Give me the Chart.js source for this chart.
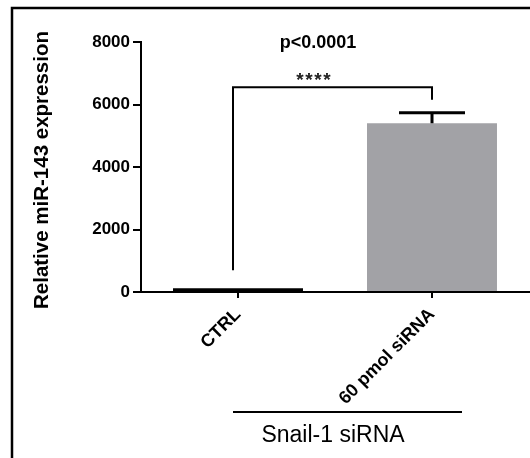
<!DOCTYPE html>
<html>
<head>
<meta charset="utf-8">
<script src="https://cdn.jsdelivr.net/npm/chart.js@4"></script>
<style>
  html, body { margin: 0; padding: 0; background: #fff; }
  #wrap { width: 530px; height: 458px; position: relative; }
</style>
</head>
<body>
<div id="wrap"><canvas id="chart"></canvas></div>
<script>
var categories = ['CTRL', '60 pmol siRNA'];
var values = [120, 5400];
var errors = [0, 340];
var yTicks = [0, 2000, 4000, 6000, 8000];
var barColors = ['#000000', '#a2a2a6'];
var bracketTop = 6550;
var bracketEnds = [700, 6150];
var pText = 'p<0.0001';
var starText = '****';
var groupLabel = 'Snail-1 siRNA';

var font = '"Liberation Sans", Arial, sans-serif';

var overlay = {
  id: 'overlay',
  afterDatasetsDraw: function(chart) {
    var ctx = chart.ctx;
    var x = chart.scales.x, y = chart.scales.y;
    ctx.save();
    // error bars
    ctx.strokeStyle = '#000';
    ctx.lineWidth = 3;
    values.forEach(function(v, i) {
      if (!errors[i]) return;
      var cx = x.getPixelForValue(i);
      var top = y.getPixelForValue(v + errors[i]);
      var base = y.getPixelForValue(v);
      ctx.beginPath();
      ctx.moveTo(cx, base); ctx.lineTo(cx, top);
      ctx.moveTo(cx - 33, top); ctx.lineTo(cx + 33, top);
      ctx.stroke();
    });
    // significance bracket
    var x0 = x.getPixelForValue(0) - 5, x1 = x.getPixelForValue(1);
    var yb = y.getPixelForValue(bracketTop);
    ctx.lineWidth = 2;
    ctx.beginPath();
    ctx.moveTo(x0, y.getPixelForValue(bracketEnds[0]));
    ctx.lineTo(x0, yb);
    ctx.lineTo(x1, yb);
    ctx.lineTo(x1, y.getPixelForValue(bracketEnds[1]));
    ctx.stroke();
    ctx.fillStyle = '#222';
    ctx.textAlign = 'center';
    ctx.textBaseline = 'middle';
    ctx.font = 'bold 19px ' + font;
    starText.split('').forEach(function(c, i) {
      ctx.fillText(c, 300 + i * 9, 81);
    });
    ctx.fillStyle = '#000';
    ctx.textBaseline = 'alphabetic';
    ctx.font = 'bold 18px ' + font;
    ctx.fillText(pText, 318, 48);
    // group line and label
    ctx.beginPath();
    ctx.moveTo(x0, 412); ctx.lineTo(462, 412);
    ctx.stroke();
    ctx.font = '23px ' + font;
    ctx.fillText(groupLabel, 333, 442);
    // frame
    ctx.lineWidth = 2.5;
    ctx.beginPath();
    ctx.moveTo(12, 470); ctx.lineTo(12, 8); ctx.lineTo(540, 8);
    ctx.stroke();
    // y title
    ctx.translate(42, 170);
    ctx.rotate(-Math.PI / 2);
    ctx.textBaseline = 'middle';
    ctx.font = 'bold 20.5px ' + font;
    ctx.fillText('Relative miR-143 expression', 0, 0);
    ctx.restore();
  }
};

new Chart(document.getElementById('chart'), {
  type: 'bar',
  data: {
    labels: categories,
    datasets: [{
      data: values,
      backgroundColor: barColors,
      borderWidth: 0,
      barPercentage: 0.67,
      categoryPercentage: 1
    }]
  },
  options: {
    responsive: true,
    maintainAspectRatio: false,
    animation: false,
    layout: { padding: { left: 0, top: 42, right: 1, bottom: 0 } },
    plugins: { legend: { display: false }, tooltip: { enabled: false } },
    scales: {
      x: {
        offset: true,
        afterFit: function(s) { s.height = 166; },
        grid: { display: true, offset: false, drawOnChartArea: false, drawTicks: true, tickLength: 6, color: '#000', lineWidth: 2 },
        border: { color: '#000', width: 2 },
        ticks: {
          color: '#000', minRotation: 45, maxRotation: 45, padding: 6,
          font: { family: font, size: 18, weight: 'bold' }
        }
      },
      y: {
        min: 0, max: 8000,
        afterFit: function(s) { s.width = 141; },
        afterBuildTicks: function(s) { s.ticks = yTicks.map(function(v) { return { value: v }; }); },
        grid: { display: true, drawOnChartArea: false, drawTicks: true, tickLength: 8, color: '#000', lineWidth: 2 },
        border: { color: '#000', width: 2 },
        ticks: {
          color: '#000', padding: 3,
          font: { family: font, size: 17, weight: 'bold' },
          callback: function(v) { return String(v); }
        }
      }
    }
  },
  plugins: [overlay]
});
</script>
</body>
</html>
